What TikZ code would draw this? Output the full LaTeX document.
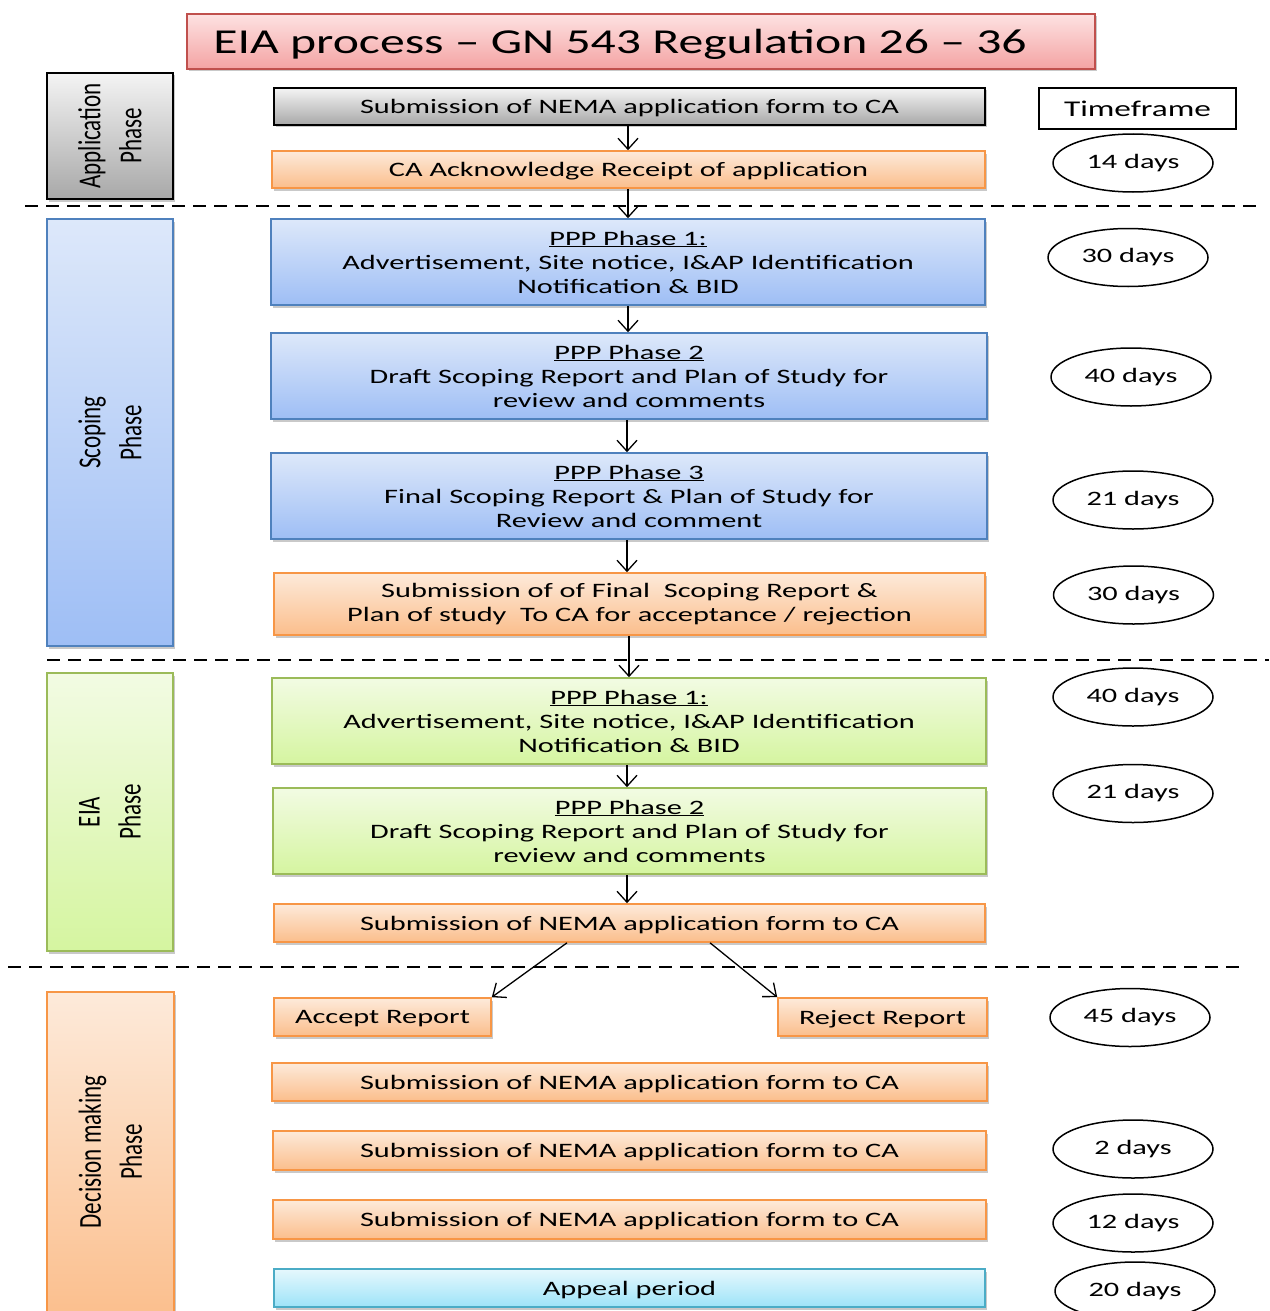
\documentclass[tikz,border=0pt]{standalone}
\usepackage{fontspec}
\setmainfont{Carlito}[FakeStretch=1.48]
\newfontfamily\phasefont{Carlito}[FakeStretch=0.72]
\newfontfamily\titlefont{Carlito}[FakeStretch=1.42]
\usetikzlibrary{shapes.geometric,shadows,arrows.meta,calc}
\definecolor{orT}{HTML}{FDEADA}
\definecolor{orB}{HTML}{FBBE8C}
\definecolor{orD}{HTML}{F79646}
\definecolor{blT}{HTML}{DDE8FA}
\definecolor{blB}{HTML}{9EBEF5}
\definecolor{blD}{HTML}{4F81BD}
\definecolor{grT}{HTML}{F2FBE3}
\definecolor{grB}{HTML}{D5F5A0}
\definecolor{grD}{HTML}{9BBB59}
\definecolor{gyT}{HTML}{F4F4F4}
\definecolor{gyB}{HTML}{A8A8A8}
\definecolor{pkT}{HTML}{FDE2E2}
\definecolor{pkB}{HTML}{F4A3A3}
\definecolor{pkD}{HTML}{C0504D}
\definecolor{cyT}{HTML}{E6F8FD}
\definecolor{cyB}{HTML}{9DE3F8}
\definecolor{cyD}{HTML}{4BACC6}
\tikzset{
  sz/.style 2 args={minimum width=#1, minimum height=#2},
  box/.style={line width=1.6pt, inner sep=0pt, align=center,
    font=\fontsize{20.5}{24}\selectfont,
    drop shadow={shadow xshift=2pt, shadow yshift=-2.5pt, opacity=0.3, fill=black!70}},
  one/.style={text depth=0pt},
  orbox/.style={box, draw=orD, top color=orT, bottom color=orB},
  blbox/.style={box, draw=blD, top color=blT, bottom color=blB},
  grbox/.style={box, draw=grD, top color=grT, bottom color=grB},
  gybox/.style={box, draw=black, top color=gyT, bottom color=gyB},
  cybox/.style={box, draw=cyD, top color=cyT, bottom color=cyB},
  phaselabel/.style={rotate=90, align=center, font=\phasefont\fontsize{32}{41}\selectfont, inner sep=0pt},
  days/.style={ellipse, draw, line width=1.5pt, minimum width=160, minimum height=58,
    inner sep=0pt, font=\fontsize{20.5}{24}\selectfont},
  flow/.style={line width=1.3pt, -{Straight Barb[length=11pt,width=20pt,line width=1.3pt]}},
  sep/.style={line width=1.8pt, dash pattern=on 13pt off 8pt},
}
\begin{document}
\begin{tikzpicture}[x=1pt,y=-1pt]
\useasboundingbox (0,0) rectangle (1269,1311);
% title
\node[box, draw=pkD, top color=pkT, bottom color=pkB, sz={908}{55}, one,
  font=\titlefont\fontsize{35}{38}\selectfont] (title) at (641,41.5)
  {EIA process – GN 543 Regulation 26 – 36\hspace*{42pt}};
% phase boxes
\node[gybox, line width=2pt, sz={126}{126}] (app) at (110,136) {};
\node[phaselabel] (applbl) at (app.center) {Application\\Phase};
\node[blbox, sz={126}{427}] (scop) at (110,432.5) {};
\node[phaselabel] (scoplbl) at (scop.center) {Scoping\\Phase};
\node[grbox, sz={126}{278}] (eia) at (110,812) {};
\node[phaselabel] (eialbl) at (eia.center) {EIA\\Phase};
\node[orbox, sz={127}{330}] (dec) at (110.5,1157) {};
\node[phaselabel] (declbl) at (110.5,1152) {Decision making\\Phase};
% timeframe
\node[draw, line width=1.6pt, fill=white, sz={197}{41}, inner sep=0pt, one,
  font=\fontsize{22.5}{24}\selectfont] (tf) at (1137.5,108.5) {Timeframe};
% separators
\draw[sep] (25,206) -- (1258,206);
\draw[sep] (47,660) -- (1269,660);
\draw[sep] (8,967) -- (1240,967);
% application
\node[gybox, one, sz={711}{37}] (b1) at (629.5,106.5) {Submission of NEMA application form to CA};
\node[orbox, one, sz={713}{37}] (b2) at (628.5,169.5) {CA Acknowledge Receipt of application};
% scoping
\node[blbox, sz={714}{86}] (s1) at (628,262) {\underline{PPP Phase 1:}\\Advertisement, Site notice, I\&AP Identification\\Notification \& BID};
\node[blbox, sz={716}{86}] (s2) at (629,376) {\underline{PPP Phase 2}\\Draft Scoping Report and Plan of Study for\\review and comments};
\node[blbox, sz={716}{86}] (s3) at (629,496) {\underline{PPP Phase 3}\\Final Scoping Report \& Plan of Study for\\Review and comment};
\node[orbox, sz={711}{62}] (s4) at (629.5,604) {Submission of of Final\ \ Scoping Report \&\\Plan of study\ \ To CA for acceptance / rejection};
% eia
\node[grbox, sz={714}{86}] (e1) at (629,721) {\underline{PPP Phase 1:}\\Advertisement, Site notice, I\&AP Identification\\Notification \& BID};
\node[grbox, sz={713}{86}] (e2) at (629.5,831) {\underline{PPP Phase 2}\\Draft Scoping Report and Plan of Study for\\review and comments};
\node[orbox, one, sz={711}{38}] (e3) at (629.5,923) {Submission of NEMA application form to CA};
% decision
\node[orbox, one, sz={217}{38}] (acc) at (382.5,1017) {Accept Report};
\node[orbox, one, sz={209}{38}] (rej) at (882.5,1017) {Reject Report};
\node[orbox, one, sz={715}{38}] (d1) at (629.5,1082) {Submission of NEMA application form to CA};
\node[orbox, one, sz={713}{39}] (d2) at (629.5,1150.5) {Submission of NEMA application form to CA};
\node[orbox, one, sz={713}{39}] (d3) at (629.5,1219.5) {Submission of NEMA application form to CA};
\node[cybox, one, sz={711}{38}] (ap) at (629.5,1288) {Appeal period};
% timeframes
\node[days] (t1) at (1133,163) {14 days};
\node[days] (t2) at (1128,257.5) {30 days};
\node[days] (t3) at (1131,377) {40 days};
\node[days] (t4) at (1133,500) {21 days};
\node[days] (t5) at (1133.5,595) {30 days};
\node[days] (t6) at (1133,697) {40 days};
\node[days] (t7) at (1133,793.5) {21 days};
\node[days] (t8) at (1130,1017.5) {45 days};
\node[days] (t9) at (1133,1149) {2 days};
\node[days] (t10) at (1133,1223) {12 days};
\node[days] (t11) at (1135,1291) {20 days};
% connectors
\draw[flow] (b1.south -| 628,0) -- (b2.north -| 628,0);
\draw[flow] (b2.south -| 628,0) -- (s1.north -| 628,0);
\draw[flow] (s1.south -| 628,0) -- (s2.north -| 628,0);
\draw[flow] (s2.south -| 627,0) -- (s3.north -| 627,0);
\draw[flow] (s3.south -| 627,0) -- (s4.north -| 627,0);
\draw[flow] (s4.south -| 629,0) -- (e1.north -| 629,0);
\draw[flow] (e1.south -| 627,0) -- (e2.north -| 627,0);
\draw[flow] (e2.south -| 627,0) -- (e3.north -| 627,0);
\draw[line width=1.3pt, -{Straight Barb[length=11pt,width=18pt,line width=1.3pt]}] (e3.south -| 567,0) -- (acc.north east);
\draw[line width=1.3pt, -{Straight Barb[length=11pt,width=18pt,line width=1.3pt]}] (e3.south -| 710,0) -- (rej.north west);
\end{tikzpicture}
\end{document}
